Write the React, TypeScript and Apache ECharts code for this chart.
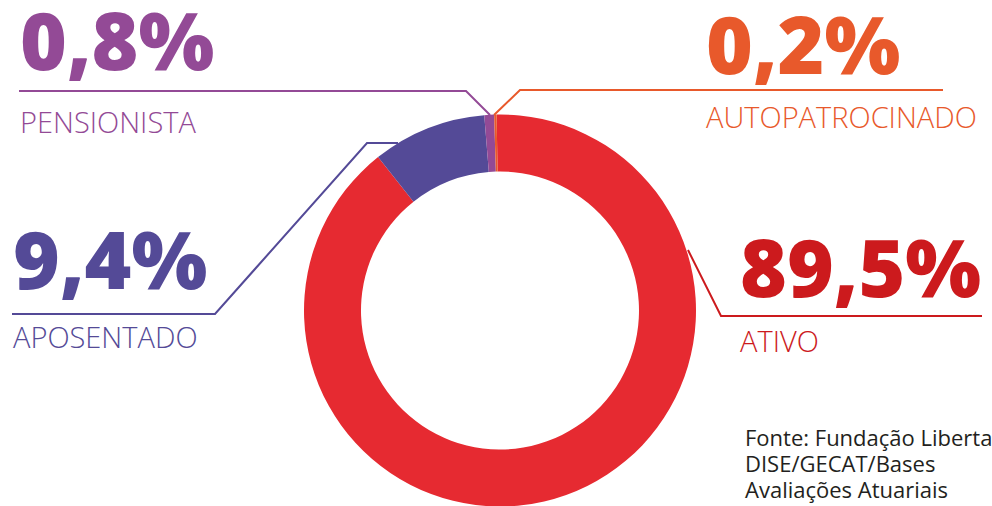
import React, { useEffect, useRef } from "react";
import * as echarts from "echarts";

const categories = ["ATIVO", "APOSENTADO", "PENSIONISTA", "AUTOPATROCINADO"];
const values = [89.5, 9.4, 0.8, 0.2];
const sliceColors = ["#E62A31", "#544A97", "#934A96", "#E8592B"];
const textColors = ["#CC1A1D", "#544A97", "#934A96", "#E8592B"];
const sourceLines = ["Fonte: Fundação Libertas", "DISE/GECAT/Bases", "Avaliações Atuariais"];

// label placement (x, top y, name line height) and leader-line routes, per category
const labelPos = [
  [740, 227, 75],
  [13, 219, 83],
  [20, 0, 91],
  [706, 4, 73],
];
const linePoints = [
  [[688, 250], [721, 316], [982, 316]],
  [[398, 143], [367, 143], [215, 314], [12, 314]],
  [[490, 115], [466, 91], [19, 91]],
  [[494, 115], [520, 90], [943, 90]],
];

const fmt = (v: number) => v.toFixed(1).replace(".", ",") + "%";

export default function App() {
  const ref = useRef<HTMLDivElement>(null);
  useEffect(() => {
    document.body.style.margin = "0";
    const chart = echarts.init(ref.current!, null, { renderer: "svg" });
    chart.setOption({
      animation: false,
      backgroundColor: "#ffffff",
      series: [
        {
          type: "pie",
          center: [500, 310.5],
          radius: [139, 196],
          startAngle: 91,
          clockwise: true,
          avoidLabelOverlap: false,
          minShowLabelAngle: 0,
          silent: true,
          data: categories.map((name, i) => ({
            name,
            value: values[i],
            itemStyle: { color: sliceColors[i] },
            label: {
              show: true,
              position: "outside",
              formatter: `{v|${fmt(values[i])}}\n{n|${name}}`,
              rich: {
                v: {
                  fontFamily: "Open Sans",
                  fontWeight: 800,
                  fontSize: 80,
                  lineHeight: 76,
                  color: textColors[i],
                },
                n: {
                  fontFamily: "Open Sans",
                  fontWeight: 300,
                  fontSize: 29,
                  lineHeight: labelPos[i][2],
                  color: textColors[i],
                },
              },
            },
            labelLine: {
              show: true,
              lineStyle: { color: textColors[i], width: 2 },
            },
          })),
          labelLine: { smooth: false },
          labelLayout: (params: any) => {
            const i = params.dataIndex;
            return {
              x: labelPos[i][0],
              y: labelPos[i][1],
              align: "left",
              verticalAlign: "top",
              labelLinePoints: linePoints[i],
            };
          },
        },
      ],
      graphic: [
        {
          type: "text",
          left: 745,
          top: 424,
          style: {
            text: sourceLines.join("\n"),
            fontFamily: "Open Sans",
            fontSize: 22,
            lineHeight: 26,
            fill: "#231F20",
          },
        },
      ],
    });
    return () => chart.dispose();
  }, []);
  return <div ref={ref} style={{ width: 992, height: 506 }} />;
}
